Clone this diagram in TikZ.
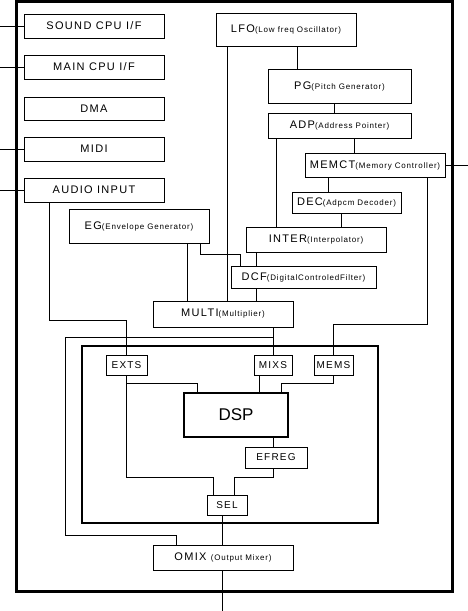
\documentclass[tikz,border=0pt]{standalone}
\usepackage{fontspec}
\setmainfont{Liberation Sans}[LetterSpace=12]
\newfontfamily\descfont{Liberation Sans}[LetterSpace=10]
\newfontfamily\corefont{Liberation Sans}
\newcommand{\desc}[1]{{\descfont\fontsize{8}{9}\selectfont#1}}
\usetikzlibrary{calc}
\tikzset{
  chipBlock/.style={draw, line width=1pt, minimum width=140pt, minimum height=24pt, inner sep=1pt, font=\fontsize{11}{12}\selectfont},
  slotBlock/.style={draw, line width=1pt, minimum height=20pt, inner sep=1pt, font=\fontsize{10}{11}\selectfont},
  dspCore/.style={draw, line width=2.2pt, minimum width=104pt, minimum height=44pt, inner sep=1pt, font=\corefont\fontsize{17}{19}\selectfont},
  chipFrame/.style={line width=3pt},
  dspFrame/.style={line width=2.2pt},
  chipLink/.style={line width=1pt}
}

\begin{document}
\begin{tikzpicture}[x=1pt, y=-1pt]
      \useasboundingbox (0,0) rectangle (468,611);
      \draw[chipFrame] (16,1.5) rectangle (452,591);
      \draw[dspFrame] (82,346) rectangle (378,523);
      % interfaces
      \node[chipBlock] (sndIf) at (94,26) {SOUND CPU I/F};
      \node[chipBlock] (mainIf) at (94,67) {MAIN CPU I/F};
      \node[chipBlock, minimum height=23pt] (dma) at (94,108.5) {DMA};
      \node[chipBlock] (midi) at (94,149) {MIDI};
      \node[chipBlock] (audioIn) at (94,190) {AUDIO INPUT};
      % slot generator
      \node[chipBlock, minimum height=33pt] (lfo) at (286,29.5) {LFO\desc{(Low freq Oscillator)}};
      \node[chipBlock, minimum width=143pt, minimum height=34pt] (pg) at (339.5,86) {PG\desc{(Pitch Generator)}};
      \node[chipBlock, minimum width=143pt, minimum height=25pt] (adp) at (339.5,125.5) {ADP\desc{(Address Pointer)}};
      \node[chipBlock] (memct) at (375,165) {MEMCT\desc{(Memory Controller)}};
      \node[chipBlock, minimum width=109pt, minimum height=21pt] (dec) at (346.5,202.5) {DEC\desc{(Adpcm Decoder)}};
      \node[chipBlock, minimum height=34pt] (eg) at (139,226) {EG\desc{(Envelope Generator)}};
      \node[chipBlock, minimum height=25pt] (inter) at (316,239.5) {INTER\desc{(Interpolator)}};
      \node[chipBlock, minimum width=145pt, minimum height=22pt] (dcf) at (303.5,277) {DCF\desc{(DigitalControledFilter)}};
      \node[chipBlock, minimum height=26pt] (multi) at (223,314) {MULTI\desc{(Multiplier)}};
      \node[chipBlock, minimum height=25pt] (omix) at (223,557.5) {OMIX \desc{(Output Mixer)}};
      % dsp block
      \node[slotBlock, minimum width=41pt] (exts) at (126.5,365) {EXTS};
      \node[slotBlock, minimum width=38pt] (mixs) at (273,365) {MIXS};
      \node[slotBlock, minimum width=39pt] (mems) at (333.5,365) {MEMS};
      \node[dspCore] (dsp) at (236,415) {DSP};
      \node[slotBlock, minimum width=62pt, minimum height=21pt] (efreg) at (276,457.5) {EFREG};
      \node[slotBlock, minimum width=40pt] (sel) at (227,505) {SEL};
      % pins
      \coordinate (sndPin) at (0,26);
      \coordinate (mainPin) at (0,67);
      \coordinate (midiPin) at (0,149);
      \coordinate (audioPin) at (0,190);
      \coordinate (memPin) at (468,165);
      \coordinate (outPin) at (222,611);
      \draw[chipLink] (sndPin) -- (sndIf.west);
      \draw[chipLink] (mainPin) -- (mainIf.west);
      \draw[chipLink] (midiPin) -- (midi.west);
      \draw[chipLink] (audioPin) -- (audioIn.west);
      \draw[chipLink] (memPin) -- (memct.east);
      % connections
      \draw[chipLink] ([xshift=-59pt]lfo.south) -- ([xshift=-59pt]lfo.south |- multi.north);
      \draw[chipLink] ([xshift=11pt]lfo.south) -- ([xshift=11pt]lfo.south |- pg.north);
      \draw[chipLink] ([xshift=-5pt]pg.south) -- ([xshift=-5pt]pg.south |- adp.north);
      \draw[chipLink] ([xshift=14.5pt]adp.south) -- ([xshift=14.5pt]adp.south |- memct.north);
      \draw[chipLink] ([xshift=-63.5pt]adp.south) -- ([xshift=-63.5pt]adp.south |- inter.north);
      \draw[chipLink] ([xshift=-47pt]memct.south) -- ([xshift=-47pt]memct.south |- dec.north);
      \draw[chipLink] ([xshift=52pt]memct.south) -- ++(0,147) -| (mems.north);
      \draw[chipLink] ([xshift=-5.5pt]dec.south) -- ([xshift=-5.5pt]dec.south |- inter.north);
      \draw[chipLink] ([xshift=-60pt]inter.south) -- ([xshift=-60pt]inter.south |- dcf.north);
      \draw[chipLink] ([xshift=61pt]eg.south) -- ++(0,11) -| ([xshift=-63.5pt]dcf.north);
      \draw[chipLink] ([xshift=48pt]eg.south) -- ([xshift=48pt]eg.south |- multi.north);
      \draw[chipLink] ([xshift=-47.5pt]dcf.south) -- ([xshift=-47.5pt]dcf.south |- multi.north);
      \draw[chipLink] ([xshift=-45pt]audioIn.south) -- ++(0,118) -| (exts.north);
      \draw[chipLink] ([xshift=50pt]multi.south) -- (mixs.north);
      \draw[chipLink] ([xshift=50pt]multi.south) -- ++(0,10) -- ++(-208,0) -- ++(0,198) -| ([xshift=-47pt]omix.north);
      \draw[chipLink] (exts.south) -- ++(0,8) -| ([xshift=-39pt]dsp.north);
      \draw[chipLink] (exts.south) -- ++(0,102) -| ([xshift=-14pt]sel.north);
      \draw[chipLink] ([xshift=-14pt]mixs.south) -- ([xshift=-14pt]mixs.south |- dsp.north);
      \draw[chipLink] (mems.south) -- ++(0,8) -| ([xshift=45pt]dsp.north);
      \draw[chipLink] ([xshift=37pt]dsp.south) -- ([xshift=37pt]dsp.south |- efreg.north);
      \draw[chipLink] ([xshift=-3pt]efreg.south) -- ++(0,9) -| ([xshift=7pt]sel.north);
      \draw[chipLink] ([xshift=-5pt]sel.south) -- ([xshift=-5pt]sel.south |- omix.north);
      \draw[chipLink] ([xshift=-1pt]omix.south) -- (outPin);
    \end{tikzpicture}
\end{document}
